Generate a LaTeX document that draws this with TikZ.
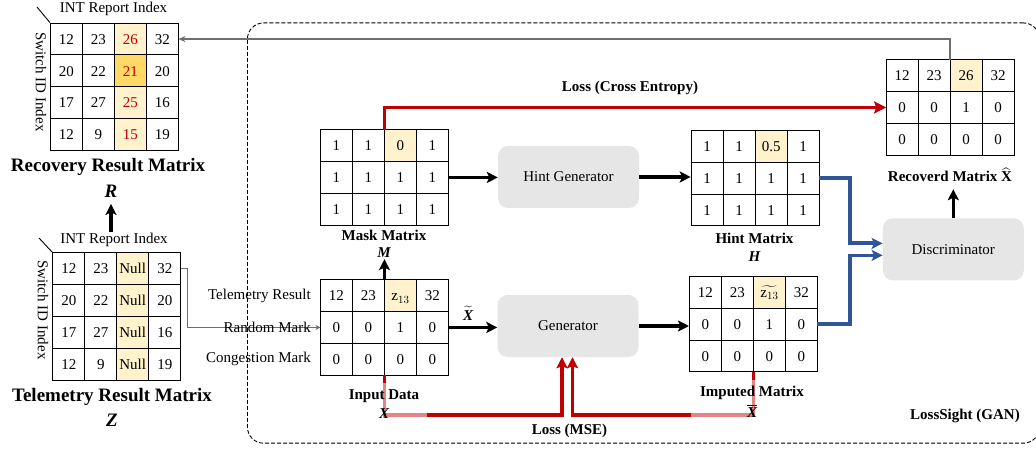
\documentclass[tikz,border=0pt]{standalone}
\usepackage{fontspec}
\setmainfont{Liberation Serif}
\usepackage{amsmath}
\usetikzlibrary{matrix,arrows.meta,calc}
\definecolor{hl}{HTML}{FFF2CC}
\definecolor{hld}{HTML}{FFD966}
\definecolor{dred}{HTML}{C00000}
\definecolor{lred}{HTML}{E38585}
\definecolor{dblue}{HTML}{2F5597}
\definecolor{boxg}{HTML}{E6E6E6}
\definecolor{grayline}{HTML}{6E6E6E}
\newcommand{\myfs}{\fontsize{15}{18}\selectfont}
\newcommand{\mybigfs}{\fontsize{19}{23}\selectfont}
\tikzset{
  mat/.style={matrix of nodes, inner sep=0pt, outer sep=0pt, column sep=-0.9pt, row sep=-0.9pt,
    nodes={draw, line width=0.9pt, minimum width=32pt, minimum height=31.8pt, inner sep=0pt,
      anchor=center, font=\myfs, text height=10.4pt, text depth=0pt}},
  thickarrow/.style={line width=3.2pt, draw=black, -{Stealth[length=11pt,width=11pt,inset=2.5pt]}},
  redl/.style={line width=3.8pt, draw=dred},
  lredl/.style={line width=3.8pt, draw=lred},
  redtip/.style={-{Stealth[length=11pt,width=11pt,inset=2pt]}},
  bluel/.style={line width=3.8pt, draw=dblue, -{Stealth[length=11pt,width=11pt,inset=2.5pt]}},
  grayarrow/.style={line width=1.5pt, draw=grayline, -{Stealth[length=7pt,width=6pt]}},
  grayarrowsm/.style={line width=1.4pt, draw=grayline, -{Stealth[length=5pt,width=5pt]}},
  gbox/.style={fill=boxg, rounded corners=10pt, minimum width=141pt, minimum height=62pt, font=\myfs, inner sep=0pt},
  lab/.style={font=\myfs, inner sep=1pt},
  blab/.style={font=\myfs\bfseries, inner sep=1pt},
  sym/.style={font=\myfs\bfseries\itshape, inner sep=1pt},
  bigt/.style={font=\mybigfs\bfseries, inner sep=1pt},
  bigsym/.style={font=\mybigfs\bfseries\itshape, inner sep=1pt},
  thinl/.style={line width=0.9pt, draw=black},
}
\begin{document}
\begin{tikzpicture}[x=1pt,y=-1pt]
\useasboundingbox (0,0) rectangle (1036,449);

% dashed container
\node[draw, line width=0.9pt, dash pattern=on 4pt off 2pt, rounded corners=16pt,
  minimum width=792pt, minimum height=420.2pt, inner sep=0pt, anchor=north west] (gan) at (247,22.5) {};

% Recovery result matrix R
\matrix (R) [mat, anchor=north west] at (50,22.7) {
12 & 23 & |[fill=hl,text=dred]| 26 & 32 \\
20 & 22 & |[fill=hld,text=dred]| 21 & 20 \\
17 & 27 & |[fill=hl,text=dred]| 25 & 16 \\
12 & 9 & |[fill=hl,text=dred]| 15 & 19 \\
};
\node[lab] (Rtop) at (113.5,9) {INT Report Index};
\coordinate (Rdiag) at (37,7);
\draw[thinl] (Rdiag) -- (R.north west);
\node[lab, rotate=-90] (Rside) at (41,82) {Switch ID Index};
\node[bigt] (Rtitle) at (108,167) {Recovery Result Matrix};
\node[bigsym] (Rsym) at (111,191.5) {R};

% Telemetry result matrix Z
\matrix (Z) [mat, anchor=north west] at (52.3,252.3) {
12 & 23 & |[fill=hl]| Null & 32 \\
20 & 22 & |[fill=hl]| Null & 20 \\
17 & 27 & |[fill=hl]| Null & 16 \\
12 & 9 & |[fill=hl]| Null & 19 \\
};
\node[lab] (Ztop) at (114,240) {INT Report Index};
\coordinate (Zdiag) at (39,238);
\draw[thinl] (Zdiag) -- (Z.north west);
\node[lab, rotate=-90] (Zside) at (43,310) {Switch ID Index};
\node[bigt] (Ztitle) at (112,397) {Telemetry Result Matrix};
\node[bigsym] (Zsym) at (112,420) {Z};

\draw[thickarrow, shorten >=5pt] (Ztop.north -| Rsym) -- (Rsym.south);

% Input data matrix
\matrix (In) [mat, anchor=north west] at (320,279.3) {
12 & 23 & |[fill=hl]| $\mathrm{z}_{13}$ & 32 \\
0 & 0 & 1 & 0 \\
0 & 0 & 0 & 0 \\
};
\node[lab, anchor=east] (lTR) at ([xshift=-8.5pt]In-1-1.west) {Telemetry Result};
\node[lab, anchor=east] (lCM) at ([xshift=-8.5pt]In-3-1.west) {Congestion Mark};

\draw[grayarrowsm] (Z-1-4.east) -- ++(6.5,0) |- (In-2-1.west);
\node[lab, anchor=east] (lRM) at ([xshift=-8.5pt]In-2-1.west) {Random Mark};

% Mask matrix
\matrix (Ma) [mat, anchor=north west] at (320,129.3) {
1 & 1 & |[fill=hl]| 0 & 1 \\
1 & 1 & 1 & 1 \\
1 & 1 & 1 & 1 \\
};
\node[blab] (MaLab) at (384,235) {Mask Matrix};
\node[sym] (Msym) at (384,253) {M};
\draw[thickarrow] (In-1-3.north west) -- (In-1-3.north west |- Msym.south);

% Hint generator
\node[gbox] (HG) at (568.5,177) {Hint Generator};
\draw[thickarrow] (Ma-2-4.east) -- (Ma-2-4.east -| HG.west);

% Hint matrix
\matrix (Hi) [mat, anchor=north west] at (690.7,130) {
1 & 1 & |[fill=hl]| 0.5 & 1 \\
1 & 1 & 1 & 1 \\
1 & 1 & 1 & 1 \\
};
\node[blab] (HiLab) at (754.5,238) {Hint Matrix};
\node[sym] (Hsym) at (754.5,257) {H};
\draw[thickarrow] (HG.east) -- (HG.east -| Hi.west);

% Generator
\node[gbox] (Gen) at (568,326) {Generator};
\draw[thickarrow] (In-2-4.east) -- (In-2-4.east -| Gen.west);
\node[sym] (Xt) at (468,313) {$\widetilde{\text{X}}$};

% Imputed matrix
\matrix (Im) [mat, anchor=north west] at (689,276) {
12 & 23 & |[fill=hl]| $\widetilde{\mathrm{z}_{13}}$ & 32 \\
0 & 0 & 1 & 0 \\
0 & 0 & 0 & 0 \\
};
\draw[thickarrow] (Gen.east) -- (Gen.east -| Im.west);

% Recovered matrix
\matrix (Rec) [mat, anchor=north west] at (885.7,59.3) {
12 & 23 & |[fill=hl]| 26 & 32 \\
0 & 0 & 1 & 0 \\
0 & 0 & 0 & 0 \\
};
\node[blab] (RecLab) at (950,175) {Recoverd Matrix $\widehat{\text{X}}$};

% Discriminator
\node[gbox] (Dis) at (953.3,249.4) {Discriminator};
\draw[thickarrow] (Dis.north) -- ++(0,-29);

% blue lines
\coordinate (bx) at (850,0);
\draw[bluel] (Hi-2-4.east) -- (Hi-2-4.east -| bx) |- ([yshift=6pt]Dis.west);
\draw[bluel] (Im-2-4.east) -- (Im-2-4.east -| bx) |- ([yshift=-6pt]Dis.west);

% gray feedback arrow
\draw[grayarrow] (Rec-1-3.north west) |- (R-1-4.east);

% red cross entropy loss
\draw[redl, -{Stealth[length=12pt,width=12pt,inset=2pt]}] (Ma-1-3.north west) |- (Rec-2-1.west);
\node[blab] (LCE) at (630,88) {Loss (Cross Entropy)};

% red MSE loss
\coordinate (ybot) at (0,415);
\coordinate (g1) at (562,0);
\coordinate (g2) at (572.5,0);
\path (In-3-3.south west) coordinate (A0);
\draw[redl] (A0) -- ++(0,8) coordinate (A1);
\draw[lredl] (A1) -- (A1 |- ybot) -- ++(43,0) coordinate (A3);
\draw[redl, redtip] (A3) -- (g1 |- ybot) -- (g1 |- Gen.south);
\path (Im-3-3.south west) coordinate (B0);
\draw[redl] (B0) -- ++(0,8) coordinate (B1);
\draw[lredl] (B1) -- (B1 |- ybot) -- ++(-62,0) coordinate (B3);
\draw[redl, redtip] (B3) -- (g2 |- ybot) -- (g2 |- Gen.south);

\node[blab] (InLab) at (384,396) {Input Data};
\node[sym] (Xsym) at (384,414) {X};
\node[blab] (ImLab) at (752,393) {Imputed Matrix};
\node[sym] (Xb) at (752,411) {$\overline{\text{X}}$};
\node[blab] (LMSE) at (569.5,431) {Loss (MSE)};
\node[blab] (LS) at (965,415.7) {LossSight (GAN)};
\end{tikzpicture}
\end{document}
